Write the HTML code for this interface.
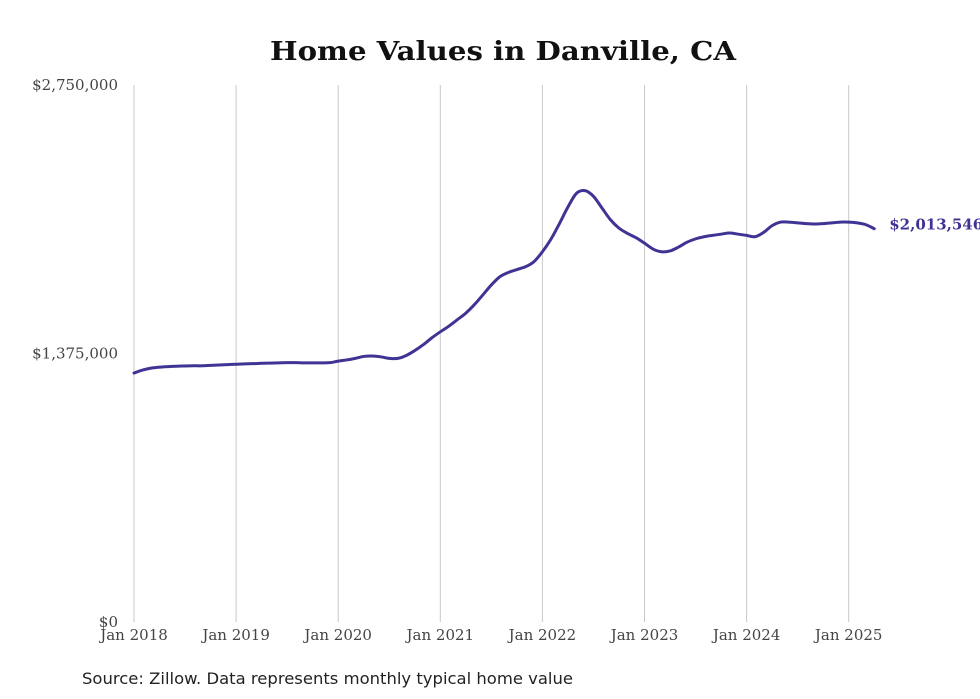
<!DOCTYPE html>
<html><head><meta charset="utf-8"><style>
html,body{margin:0;padding:0;background:#fff;width:980px;height:699px;overflow:hidden}
svg{display:block}
</style></head><body>
<svg id="chart" width="980" height="699" xmlns="http://www.w3.org/2000/svg">
<text x="503" y="60" text-anchor="middle" font-family="DejaVu Serif, serif" font-weight="bold" font-size="26" fill="#111" textLength="466" lengthAdjust="spacingAndGlyphs">Home Values in Danville, CA</text>
<g id="grid"></g><g id="yaxis"></g><g id="xaxis"></g><g id="series"></g>
<text x="82" y="684" font-family="DejaVu Sans, Liberation Sans, sans-serif" font-size="16" fill="#222" textLength="491" lengthAdjust="spacingAndGlyphs">Source: Zillow. Data represents monthly typical home value</text>
</svg>
<script>
const yTicks = [0, 1375000, 2750000];
const yTickLabels = ["$0", "$1,375,000", "$2,750,000"];
const xTickYears = [2018, 2019, 2020, 2021, 2022, 2023, 2024, 2025];
const xTickLabels = ["Jan 2018","Jan 2019","Jan 2020","Jan 2021","Jan 2022","Jan 2023","Jan 2024","Jan 2025"];
const startYear = 2018;
const valuesK = [
1275,1290,1300,1305,1308,1310,1311,1312,1312,1314,1316,1318,
1320,1322,1323,1325,1326,1327,1328,1328,1327,1327,1327,1328,
1336,1342,1350,1360,1362,1358,1350,1350,1365,1390,1420,1455,
1486,1515,1548,1582,1625,1675,1726,1768,1790,1805,1819,1845,
1896,1960,2040,2125,2195,2209,2180,2120,2060,2017,1990,1968,
1940,1910,1896,1900,1920,1945,1962,1973,1980,1986,1992,1986,
1980,1973,1995,2030,2048,2048,2044,2040,2038,2040,2044,2048,
2048,2044,2035,2014];
const lastLabel = "$2,013,546";

const NS="http://www.w3.org/2000/svg";
const x0=134, pxPerYear=102.1, yTop=85, yBot=622, yMax=2750000;
const xScale = m => x0 + m*pxPerYear/12;
const yScale = v => yBot - v/yMax*(yBot-yTop);
function mk(tag, attrs, parent){const e=document.createElementNS(NS,tag);for(const k in attrs)e.setAttribute(k,attrs[k]);parent.appendChild(e);return e;}
const grid=document.getElementById('grid'), ya=document.getElementById('yaxis'), xa=document.getElementById('xaxis'), ser=document.getElementById('series');
xTickYears.forEach((yr,i)=>{
  const x=xScale((yr-startYear)*12);
  const l=mk('line',{x1:x,x2:x,y1:yTop,y2:yBot,stroke:'#c8c8c8','stroke-width':1},grid);
  
  
  const t=mk('text',{x:x,y:640,'text-anchor':'middle','font-family':'DejaVu Serif, serif','font-size':15,fill:'#444'},xa);
  t.textContent=xTickLabels[i];
  
  
});
yTicks.forEach((v,i)=>{
  const t=mk('text',{x:118,y:yScale(v)+5,'text-anchor':'end','font-family':'DejaVu Serif, serif','font-size':15,fill:'#444'},ya);
  t.textContent=yTickLabels[i];
  
  
});
const pts=valuesK.map((v,i)=>[xScale(i),yScale(v*1000)]);
let d='M'+pts[0][0]+','+pts[0][1];
for(let i=1;i<pts.length;i++){
  const p0=pts[Math.max(0,i-2)],p1=pts[i-1],p2=pts[i],p3=pts[Math.min(pts.length-1,i+1)];
  const c1x=p1[0]+(p2[0]-p0[0])/6,c1y=p1[1]+(p2[1]-p0[1])/6,c2x=p2[0]-(p3[0]-p1[0])/6,c2y=p2[1]-(p3[1]-p1[1])/6;
  d+=` C${c1x},${c1y} ${c2x},${c2y} ${p2[0]},${p2[1]}`;
}
const path=mk('path',{d:d,fill:'none',stroke:'#3f3494','stroke-width':3,'stroke-linejoin':'round','stroke-linecap':'round'},ser);


const last=pts[pts.length-1];
const lab=mk('text',{x:last[0]+15,y:last[1]+1,'font-family':'DejaVu Serif, serif','font-weight':'bold','font-size':15,fill:'#3f3494'},ser);
lab.textContent=lastLabel;


</script>
</body></html>
